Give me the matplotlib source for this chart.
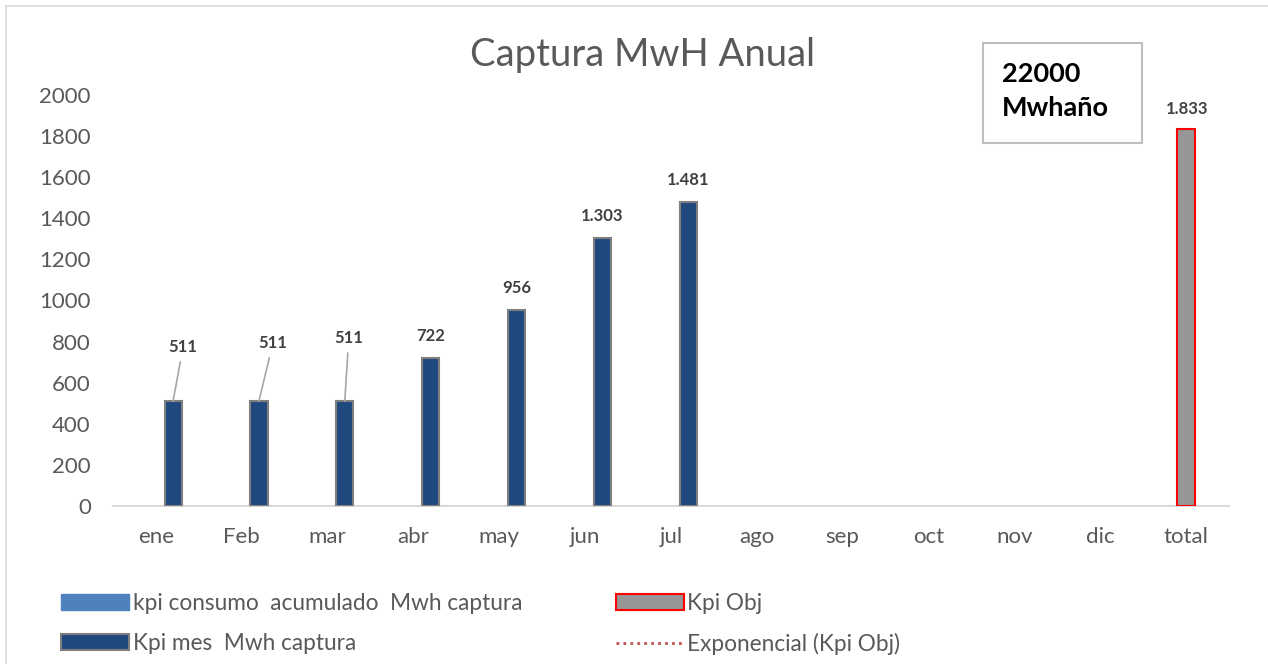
import numpy as np
import matplotlib.pyplot as plt
from matplotlib.patches import Patch, Rectangle
from matplotlib.lines import Line2D

plt.rcParams['font.family'] = ['Lato', 'DejaVu Sans']

# datos del grafico
meses = ['ene', 'Feb', 'mar', 'abr', 'may', 'jun', 'jul', 'ago', 'sep', 'oct', 'nov', 'dic', 'total']
kpi_mes = [511, 511, 511, 722, 956, 1303, 1481]   # ene..jul
kpi_obj_total = 1833
yticks = [0, 200, 400, 600, 800, 1000, 1200, 1400, 1600, 1800, 2000]

azul_osc = '#1F497D'
azul_claro = '#4F81BD'
gris_txt = '#595959'


def fmt(v):
    # separador de miles con punto
    return '{:,}'.format(v).replace(',', '.')


fig = plt.figure(figsize=(12.68, 6.64), dpi=100)
ax = fig.add_axes([113/1268, 1-506/664, 1116/1268, 411/664])

x = np.arange(len(meses))
xm = x[:len(kpi_mes)] + 0.2
ax.bar(xm, kpi_mes, width=0.2, color=azul_osc, edgecolor='#7F7F7F', linewidth=1.5, zorder=3)
ax.bar(x[-1], kpi_obj_total, width=0.2, color='#969696', edgecolor='red', linewidth=1.5, zorder=3)

ax.set_xlim(-0.5, len(meses) - 0.5)
ax.set_ylim(0, 2000)
ax.set_xticks(x)
ax.set_xticklabels(meses)
ax.set_yticks(yticks)
ax.tick_params(axis='both', length=0, labelsize=16, labelcolor=gris_txt)
ax.tick_params(axis='y', pad=16)
ax.tick_params(axis='x', pad=15)
for s in ['top', 'right', 'left']:
    ax.spines[s].set_visible(False)
ax.spines['bottom'].set_color('#D9D9D9')
ax.spines['bottom'].set_linewidth(1.5)

# etiquetas de datos (las tres primeras con linea guia)
offs = [(10, 54), (14, 58), (4, 63)]
for i, v in enumerate(kpi_mes):
    if i < 3:
        ax.annotate(fmt(v), xy=(xm[i], v), xytext=offs[i], textcoords='offset pixels',
                    ha='center', va='center', fontsize=12, fontweight='bold', color='#404040',
                    arrowprops=dict(arrowstyle='-', color='#A6A6A6', lw=1.2, shrinkA=3, shrinkB=0))
    else:
        ax.annotate(fmt(v), xy=(xm[i], v), xytext=(0, 22), textcoords='offset pixels',
                    ha='center', va='center', fontsize=12, fontweight='bold', color='#404040')
ax.annotate(fmt(kpi_obj_total), xy=(x[-1], kpi_obj_total), xytext=(1, 20), textcoords='offset pixels',
            ha='center', va='center', fontsize=12, fontweight='bold', color='#404040')

fig.text(643/1268, 1-55/664, 'Captura MwH Anual', ha='center', va='center', fontsize=27.5, color=gris_txt)

# cuadro 22000 Mwhaño
fig.add_artist(Rectangle((983/1268, 1-143/664), 159/1268, 100/664, transform=fig.transFigure,
                         facecolor='white', edgecolor='#BFBFBF', linewidth=1.5))
fig.text(1002/1268, 1-74/664, '22000', ha='left', va='center', fontsize=19.5, fontweight='bold', color='black')
fig.text(1002/1268, 1-108/664, 'Mwhaño', ha='left', va='center', fontsize=19.5, fontweight='bold', color='black')

# borde del area del grafico
fig.add_artist(Line2D([6/1268, 6/1268], [0, 1-6/664], transform=fig.transFigure, color='#D9D9D9', lw=1.2))
fig.add_artist(Line2D([6/1268, 1], [1-6/664, 1-6/664], transform=fig.transFigure, color='#D9D9D9', lw=1.2))

handles = [Patch(facecolor=azul_claro, edgecolor=azul_claro),
           Patch(facecolor=azul_osc, edgecolor='#7F7F7F', linewidth=1.5),
           Patch(facecolor='#969696', edgecolor='red', linewidth=1.5),
           Line2D([0], [0], color='#C0504D', lw=2, linestyle=(0, (1, 1.5)))]
labels = ['kpi consumo  acumulado  Mwh captura', 'Kpi mes  Mwh captura',
          'Kpi Obj', 'Exponencial (Kpi Obj)']
fig.legend(handles, labels, ncol=2, loc='center left', bbox_to_anchor=(41/1268, 1-624/664),
           frameon=False, fontsize=16.3, labelcolor=gris_txt, handlelength=3.0, handletextpad=0.15,
           columnspacing=4.15, labelspacing=0.82)

plt.savefig('out.png', dpi=100)
